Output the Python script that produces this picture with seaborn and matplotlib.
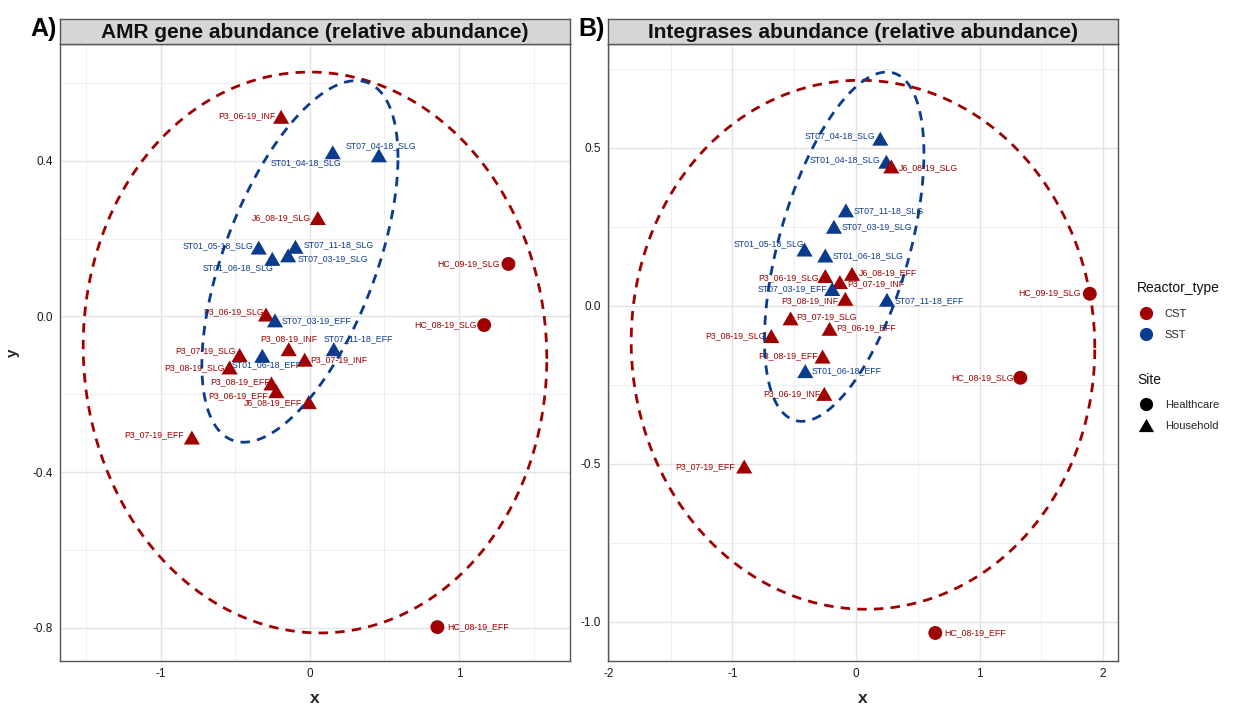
import numpy as np
import pandas as pd
import matplotlib
matplotlib.use("Agg")
import matplotlib.pyplot as plt
from matplotlib.lines import Line2D
from matplotlib.markers import MarkerStyle
from matplotlib.ticker import MultipleLocator, FuncFormatter
import seaborn as sns

# ---------------- data: panel A (AMR gene abundance) ----------------
samples_a = ["P3_06-19_INF", "ST01_04-18_SLG", "ST07_04-18_SLG", "J6_08-19_SLG",
             "ST01_05-18_SLG", "ST07_11-18_SLG", "ST07_03-19_SLG", "ST01_06-18_SLG",
             "HC_09-19_SLG", "HC_08-19_SLG", "HC_08-19_EFF", "P3_06-19_SLG",
             "ST07_03-19_EFF", "P3_08-19_INF", "ST07_11-18_EFF", "P3_07-19_SLG",
             "ST01_06-18_EFF", "P3_07-19_INF", "P3_08-19_SLG", "P3_08-19_EFF",
             "P3_06-19_EFF", "J6_08-19_EFF", "P3_07-19_EFF"]
x_a = [-0.192, 0.154, 0.463, 0.054, -0.342, -0.096, -0.145, -0.251, 1.331, 1.168,
       0.855, -0.293, -0.233, -0.141, 0.161, -0.470, -0.318, -0.034, -0.537, -0.257,
       -0.224, -0.007, -0.790]
y_a = [0.513, 0.422, 0.414, 0.253, 0.177, 0.179, 0.157, 0.148, 0.135, -0.022,
       -0.798, 0.005, -0.010, -0.084, -0.084, -0.099, -0.101, -0.111, -0.131, -0.172,
       -0.192, -0.220, -0.311]

# ---------------- data: panel B (Integrases abundance) ----------------
samples_b = ["ST07_04-18_SLG", "ST01_04-18_SLG", "J6_08-19_SLG", "ST07_11-18_SLG",
             "ST07_03-19_SLG", "ST01_05-18_SLG", "ST01_06-18_SLG", "P3_06-19_SLG",
             "J6_08-19_EFF", "P3_07-19_INF", "ST07_03-19_EFF", "P3_08-19_INF",
             "ST07_11-18_EFF", "P3_07-19_SLG", "P3_06-19_EFF", "P3_08-19_SLG",
             "P3_08-19_EFF", "ST01_06-18_EFF", "P3_06-19_INF", "P3_07-19_EFF",
             "HC_09-19_SLG", "HC_08-19_SLG", "HC_08-19_EFF"]
x_b = [0.197, 0.246, 0.286, -0.081, -0.178, -0.416, -0.248, -0.248, -0.032, -0.130,
       -0.192, -0.086, 0.251, -0.529, -0.213, -0.685, -0.270, -0.410, -0.256, -0.904,
       1.892, 1.330, 0.642]
y_b = [0.529, 0.456, 0.441, 0.302, 0.250, 0.178, 0.159, 0.094, 0.101, 0.075,
       0.053, 0.022, 0.019, -0.040, -0.073, -0.096, -0.161, -0.207, -0.279, -0.509,
       0.038, -0.228, -1.036]

# ellipse summaries (center x, center y, half-range x, half-range y, xy covariance term)
ellipse_groups = ["CST", "SST"]
ell_a_cx = [0.035, -0.066]
ell_a_cy = [-0.0925, 0.1415]
ell_a_rx = [1.553, 0.657]
ell_a_ry = [0.7205, 0.4645]
ell_a_cxy = [-0.025, 0.175]
ell_b_cx = [0.057, -0.095]
ell_b_cy = [-0.1235, 0.187]
ell_b_rx = [1.8755, 0.645]
ell_b_ry = [0.8375, 0.553]
ell_b_cxy = [-0.02, 0.19]

panel_titles = ["AMR gene abundance (relative abundance)",
                "Integrases abundance (relative abundance)"]
panel_tags = ["A)", "B)"]
reactor_levels = ["CST", "SST"]
site_levels = ["Healthcare", "Household"]


def reactor_of(name):
    return "SST" if name.startswith("ST") else "CST"


def site_of(name):
    return "Healthcare" if name.startswith("HC") else "Household"


# label layout (ha, dx px, dy px)
lab_a = [("right", -6, 1), ("right", 9, -10), ("center", 2, 10), ("right", -7, 0),
         ("right", -5, 2), ("left", 8, 2), ("left", 10, -3), ("right", 1, -9),
         ("right", -9, 0), ("right", -7, 0), ("left", 10, 0), ("right", -2, 3),
         ("left", 7, 0), ("center", 0, 10), ("left", -10, 10), ("right", -4, 4),
         ("center", 4, -9), ("left", 6, 0), ("right", -5, 0), ("right", -2, 2),
         ("right", -8, -4), ("right", -7, -1), ("right", -8, 3)]
lab_b = [("right", -5, 3), ("right", -6, 2), ("left", 8, -1), ("left", 8, 0),
         ("left", 8, 0), ("right", 0, 6), ("left", 7, 0), ("right", -6, -2),
         ("left", 7, 1), ("left", 7, -2), ("right", -5, 0), ("right", -7, -2),
         ("left", 8, -1), ("left", 6, 2), ("left", 7, 1), ("right", -6, 0),
         ("right", -5, 1), ("left", 6, 0), ("right", -4, 0), ("right", -9, 0),
         ("right", -9, 1), ("right", -7, 0), ("left", 9, 0)]

RED = "#A00000"
BLUE = "#0B3B8C"
palette = {"CST": RED, "SST": BLUE}
tri = MarkerStyle(np.array([[-1.0, -0.866], [1.0, -0.866], [0.0, 0.866]]))
markers = {"Healthcare": "o", "Household": tri}
sizes = {"Healthcare": 100, "Household": 135}

sns.set_style("white")
plt.rcParams["font.family"] = ["Liberation Sans", "DejaVu Sans"]
plt.rcParams["axes.unicode_minus"] = False

W, H = 1235, 706
fig = plt.figure(figsize=(W / 100, H / 100), dpi=100)


def fx(p):
    return p / W


def fy(p):
    return 1 - p / H


def ellipse_curve(cx, cy, rx, ry, cxy):
    t = np.linspace(0, 2 * np.pi, 361)
    l21 = cxy / rx
    l22 = np.sqrt(ry ** 2 - l21 ** 2)
    ex = cx + rx * np.cos(t)
    ey = cy + l21 * np.cos(t) + l22 * np.sin(t)
    return ex, ey


panels = [
    dict(samples=samples_a, x=x_a, y=y_a, lab=lab_a,
         ell=(ell_a_cx, ell_a_cy, ell_a_rx, ell_a_ry, ell_a_cxy),
         left=60, right=570, xmaj=1.0, ymaj=0.4, ylabel="y"),
    dict(samples=samples_b, x=x_b, y=y_b, lab=lab_b,
         ell=(ell_b_cx, ell_b_cy, ell_b_rx, ell_b_ry, ell_b_cxy),
         left=608, right=1118, xmaj=1.0, ymaj=0.5, ylabel=None),
]

TOP, BOTTOM = 44, 661
for i, p in enumerate(panels):
    ax = fig.add_axes([fx(p["left"]), fy(BOTTOM), fx(p["right"]) - fx(p["left"]),
                       fy(TOP) - fy(BOTTOM)])
    df = pd.DataFrame({"sample": p["samples"], "x": p["x"], "y": p["y"]})
    df["Reactor_type"] = [reactor_of(s) for s in df["sample"]]
    df["Site"] = [site_of(s) for s in df["sample"]]

    sns.scatterplot(data=df, x="x", y="y", hue="Reactor_type", style="Site",
                    size="Site", sizes=sizes, palette=palette, markers=markers,
                    hue_order=reactor_levels, style_order=site_levels,
                    size_order=site_levels,
                    linewidth=0, legend=False, ax=ax, zorder=3)

    for s, xx, yy, rt, (ha, dx, dy) in zip(df["sample"], df["x"], df["y"],
                                            df["Reactor_type"], p["lab"]):
        ax.annotate(s, (xx, yy), xytext=(dx, dy), textcoords="offset pixels",
                    ha=ha, va="center", fontsize=6.3, color=palette[rt], zorder=4)

    allx = list(p["x"])
    ally = list(p["y"])
    cxs, cys, rxs, rys, cxys = p["ell"]
    for g, cx, cy, rx, ry, cxy in zip(ellipse_groups, cxs, cys, rxs, rys, cxys):
        ex, ey = ellipse_curve(cx, cy, rx, ry, cxy)
        ax.plot(ex, ey, color=palette[g], lw=2.0, dashes=(3.4, 2.6),
                dash_capstyle="butt", zorder=5)
        allx += list(ex)
        ally += list(ey)

    xr = max(allx) - min(allx)
    yr = max(ally) - min(ally)
    ax.set_xlim(min(allx) - 0.05 * xr, max(allx) + 0.05 * xr)
    ax.set_ylim(min(ally) - 0.05 * yr, max(ally) + 0.05 * yr)

    ax.xaxis.set_major_locator(MultipleLocator(p["xmaj"]))
    ax.xaxis.set_minor_locator(MultipleLocator(p["xmaj"] / 2))
    ax.yaxis.set_major_locator(MultipleLocator(p["ymaj"]))
    ax.yaxis.set_minor_locator(MultipleLocator(p["ymaj"] / 2))
    ax.grid(True, which="major", color="#e3e3e3", lw=1.0, zorder=0)
    ax.grid(True, which="minor", color="#ededed", lw=0.6, zorder=0)
    ax.set_axisbelow(True)
    ax.tick_params(axis="both", which="major", length=3, width=0.8, color="#333333",
                   labelsize=8.5, labelcolor="#1a1a1a", pad=2)
    ax.tick_params(axis="both", which="minor", length=0)
    ax.yaxis.set_major_formatter(FuncFormatter(lambda v, _: f"{v:.1f}"))
    ax.xaxis.set_major_formatter(FuncFormatter(lambda v, _: f"{v:.0f}"))
    for sp in ax.spines.values():
        sp.set_color("#555555")
        sp.set_linewidth(1.0)
    ax.set_xlabel("x", fontsize=12.5, fontweight="bold", labelpad=8)
    if p["ylabel"]:
        ax.set_ylabel(p["ylabel"], fontsize=11, fontweight="bold", labelpad=9)
    else:
        ax.set_ylabel("")

    # strip
    sax = fig.add_axes([fx(p["left"]), fy(TOP), fx(p["right"]) - fx(p["left"]),
                        fy(19) - fy(TOP)])
    sax.set_facecolor("#d6d6d6")
    sax.set_xticks([])
    sax.set_yticks([])
    for sp in sax.spines.values():
        sp.set_color("#555555")
        sp.set_linewidth(1.0)
    sax.text(0.5, 0.47, panel_titles[i], ha="center", va="center", fontsize=15,
             fontweight="bold", color="#111111", transform=sax.transAxes)

    fig.text(fx(p["left"] - 3), fy(29), panel_tags[i], ha="right", va="center",
             fontsize=18, fontweight="bold", color="black")

# legends (titles as text, entries as legends)
fig.text(fx(1137), fy(288), "Reactor_type", ha="left", va="center", fontsize=10,
         color="#111111")
fig.text(fx(1137), fy(380), "Site", ha="left", va="center", fontsize=10,
         color="#111111")
h1 = [Line2D([], [], marker="o", linestyle="", markersize=9.5, color=palette[r],
             markeredgewidth=0) for r in reactor_levels]
fig.legend(h1, reactor_levels, loc="upper left",
           bbox_to_anchor=(fx(1137), fy(309)), frameon=False, fontsize=8,
           handlelength=1.6, handletextpad=0.9,
           labelspacing=0.95, borderpad=0, borderaxespad=0)
h2 = [Line2D([], [], marker="o", linestyle="", markersize=9.5, color="black",
             markeredgewidth=0),
      Line2D([], [], marker=tri, linestyle="", markersize=11, color="black",
             markeredgewidth=0)]
fig.legend(h2, site_levels, loc="upper left",
           bbox_to_anchor=(fx(1137), fy(400)), frameon=False, fontsize=8,
           handlelength=1.6, handletextpad=0.9,
           labelspacing=1.0, borderpad=0, borderaxespad=0)

fig.savefig("out.png", dpi=100)
